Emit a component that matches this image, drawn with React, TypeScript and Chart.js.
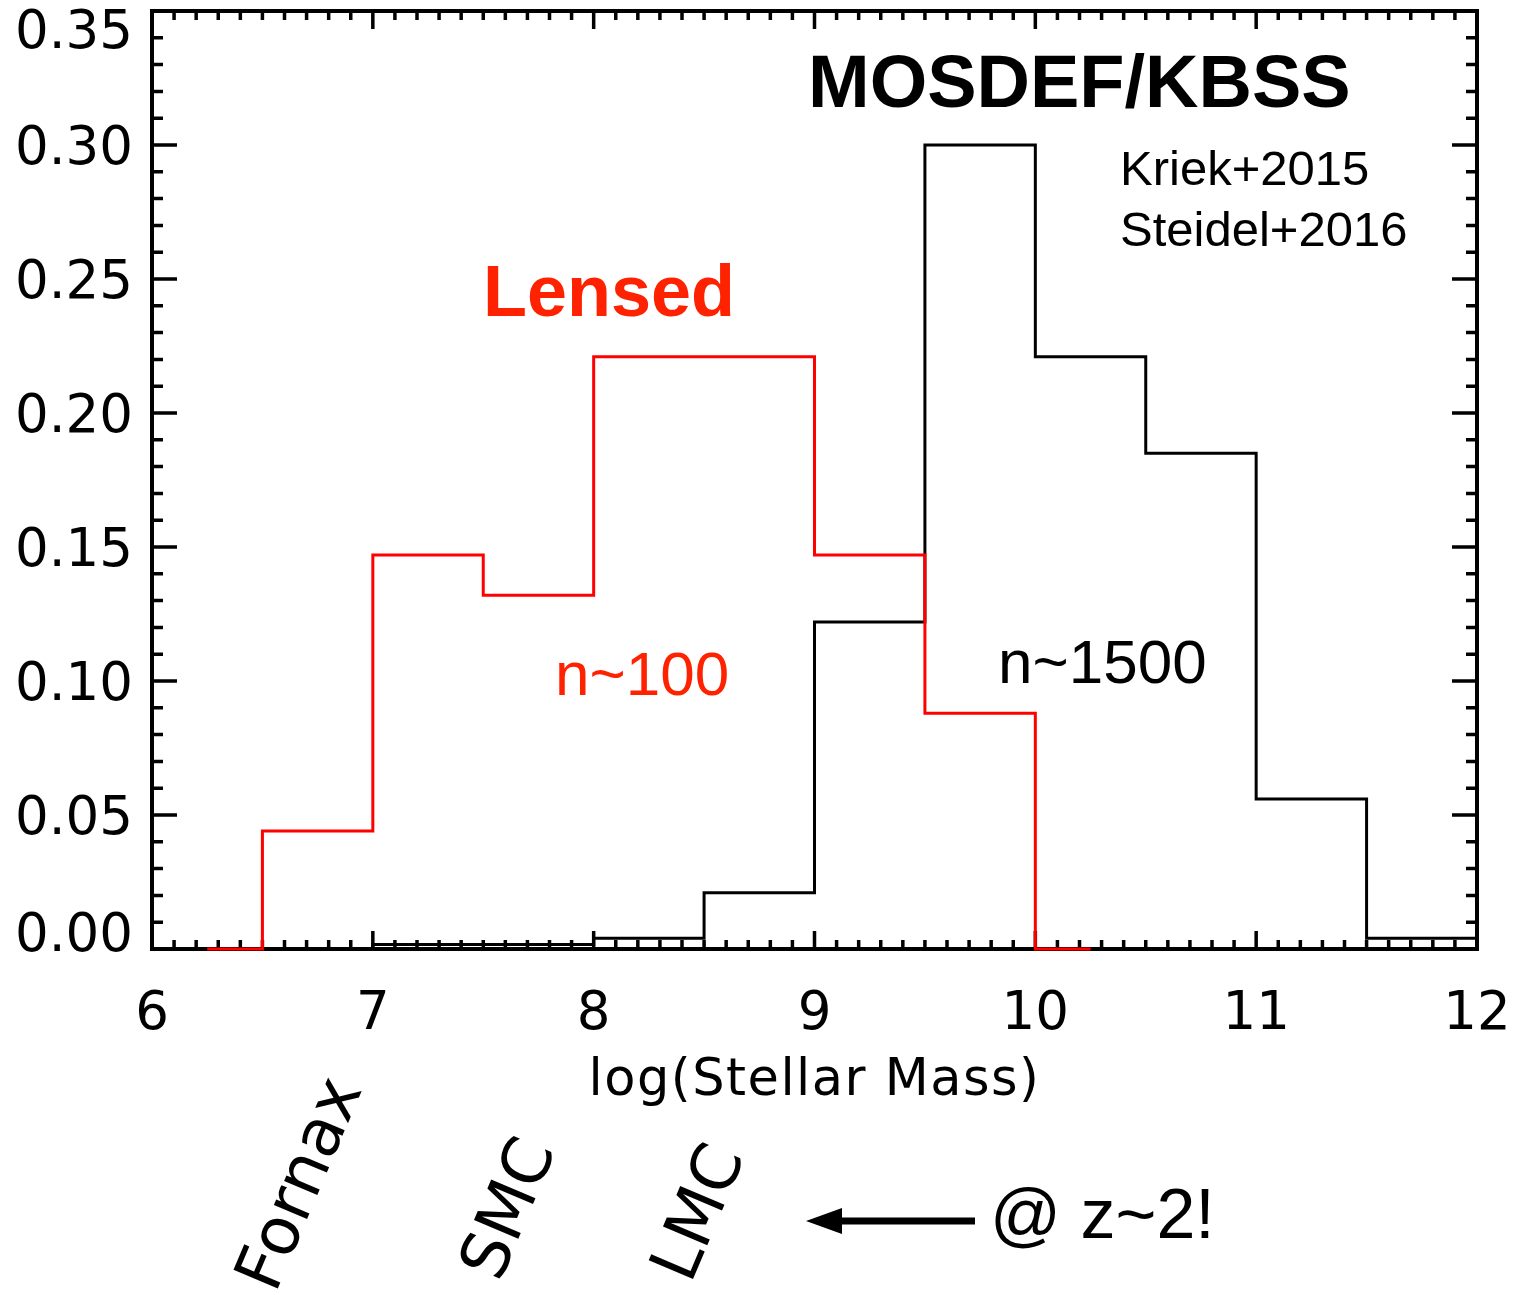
import { useEffect, useRef } from 'react';
import { Chart, registerables } from 'chart.js';

Chart.register(...registerables);

// Histogram bin centres (log stellar mass) and fraction per bin
const lensedBinCenters = [6.25, 6.75, 7.25, 7.75, 8.25, 8.75, 9.25, 9.75, 10.25];
const lensedFractions = [0, 0.044, 0.147, 0.132, 0.221, 0.221, 0.147, 0.088, 0];

const fieldBinCenters = [6.75, 7.25, 7.75, 8.25, 8.75, 9.25, 9.75, 10.25, 10.75, 11.25, 11.75, 12.25];
const fieldFractions = [0, 0.0017, 0.0017, 0.004, 0.021, 0.122, 0.3, 0.221, 0.185, 0.056, 0.004, 0.004];

// Axis ranges and tick labels
const xRange = [6, 12];
const yRange = [0, 0.35];
const xTickValues = [6, 7, 8, 9, 10, 11, 12];
const xTickLabels = ['6', '7', '8', '9', '10', '11', '12'];
const yTickValues = [0, 0.05, 0.1, 0.15, 0.2, 0.25, 0.3, 0.35];
const yTickLabels = ['0.00', '0.05', '0.10', '0.15', '0.20', '0.25', '0.30', '0.35'];
const galaxyLabels = ['Fornax', 'SMC', 'LMC'];

const LABEL_FONT = '"DejaVu Sans", sans-serif';
const TEXT_FONT = '"Liberation Sans", Arial, sans-serif';
const LENSED_RED = '#ff2200';

const boxAxesPlugin = {
  id: 'boxAxes',
  beforeDatasetsDraw(chart: any) {
    const { ctx, chartArea } = chart;
    const xs = chart.scales.x;
    const ys = chart.scales.y;
    const { left, right, top, bottom } = chartArea;
    ctx.save();
    ctx.strokeStyle = '#000';
    ctx.lineCap = 'butt';
    ctx.lineJoin = 'miter';
    // frame
    ctx.lineWidth = 4;
    ctx.strokeRect(left, top, right - left, bottom - top);
    // x ticks: minor every 0.1, major every 1 (bottom and top, inward)
    ctx.lineWidth = 3.5;
    ctx.beginPath();
    for (let i = 0; i <= 60; i++) {
      const v = xRange[0] + i / 10;
      const px = xs.getPixelForValue(v);
      const len = i % 10 === 0 ? 18 : 9;
      ctx.moveTo(px, bottom);
      ctx.lineTo(px, bottom - len);
      ctx.moveTo(px, top);
      ctx.lineTo(px, top + len);
    }
    // y ticks: minor every 0.01, major every 0.05 (left and right, inward)
    for (let i = 0; i <= 35; i++) {
      const v = i / 100;
      const py = ys.getPixelForValue(v);
      const len = i % 5 === 0 ? 25 : 11;
      ctx.moveTo(left, py);
      ctx.lineTo(left + len, py);
      ctx.moveTo(right, py);
      ctx.lineTo(right - len, py);
    }
    ctx.stroke();

    // tick labels
    ctx.fillStyle = '#000';
    ctx.font = `53px ${LABEL_FONT}`;
    const capH = 0.729 * 53;
    ctx.textAlign = 'right';
    ctx.textBaseline = 'alphabetic';
    yTickValues.forEach((v, i) => {
      let cy = ys.getPixelForValue(v);
      cy = Math.min(Math.max(cy, top + 18), bottom - 17);
      ctx.fillText(yTickLabels[i], left - 19, cy + capH / 2);
    });
    ctx.textAlign = 'center';
    xTickValues.forEach((v, i) => {
      ctx.fillText(xTickLabels[i], xs.getPixelForValue(v), 1029);
    });
    // axis title
    ctx.font = `51px ${LABEL_FONT}`;
    ctx.letterSpacing = '1.5px';
    ctx.fillText('log(Stellar Mass)', (left + right) / 2, 1095);
    ctx.letterSpacing = '0px';
    ctx.restore();
  },
  afterDraw(chart: any) {
    const { ctx } = chart;
    ctx.save();
    ctx.textBaseline = 'alphabetic';
    ctx.textAlign = 'left';

    ctx.fillStyle = '#000';
    ctx.font = `bold 74px ${TEXT_FONT}`;
    ctx.fillText('MOSDEF/KBSS', 808, 107);
    ctx.font = `49px ${TEXT_FONT}`;
    ctx.fillText('Kriek+2015', 1120, 185);
    ctx.fillText('Steidel+2016', 1120, 246);
    ctx.font = `62px ${TEXT_FONT}`;
    ctx.fillText('n~1500', 998, 683);

    ctx.fillStyle = LENSED_RED;
    ctx.font = `bold 72px ${TEXT_FONT}`;
    ctx.fillText('Lensed', 483, 316);
    ctx.font = `62px ${TEXT_FONT}`;
    ctx.fillText('n~100', 555, 695);

    // local-group comparison labels, tilted
    ctx.fillStyle = '#000';
    ctx.font = `66px ${LABEL_FONT}`;
    ctx.textAlign = 'center';
    ctx.textBaseline = 'middle';
    const spots = [
      [303, 1185],
      [512, 1210],
      [702, 1214],
    ];
    galaxyLabels.forEach((t, i) => {
      ctx.save();
      ctx.translate(spots[i][0], spots[i][1]);
      ctx.rotate((-67 * Math.PI) / 180);
      ctx.fillText(t, 0, 0);
      ctx.restore();
    });

    // arrow pointing left
    ctx.strokeStyle = '#000';
    ctx.lineWidth = 7;
    ctx.lineCap = 'butt';
    ctx.beginPath();
    ctx.moveTo(975, 1221);
    ctx.lineTo(835, 1221);
    ctx.stroke();
    ctx.beginPath();
    ctx.moveTo(806, 1221);
    ctx.lineTo(842, 1208);
    ctx.lineTo(842, 1234);
    ctx.closePath();
    ctx.fill();

    ctx.textAlign = 'left';
    ctx.textBaseline = 'alphabetic';
    ctx.font = `70px ${TEXT_FONT}`;
    ctx.fillText('@ z~2!', 990, 1238);
    ctx.restore();
  },
};

export default function App() {
  const canvasRef = useRef<HTMLCanvasElement>(null);

  useEffect(() => {
    const canvas = canvasRef.current;
    if (!canvas) return;
    const chart = new Chart(canvas, {
      type: 'line',
      data: {
        datasets: [
          {
            label: 'Lensed',
            data: lensedBinCenters.map((x, i) => ({ x, y: lensedFractions[i] })),
            borderColor: '#ff0000',
            borderWidth: 3,
            stepped: 'middle',
            pointRadius: 0,
            fill: false,
            borderJoinStyle: 'miter',
            borderCapStyle: 'butt',
            clip: { left: 5, right: 5, top: 5, bottom: 5 },
            order: 0,
          },
          {
            label: 'MOSDEF/KBSS',
            data: fieldBinCenters.map((x, i) => ({ x, y: fieldFractions[i] })),
            borderColor: '#000000',
            borderWidth: 3,
            stepped: 'middle',
            pointRadius: 0,
            fill: false,
            borderJoinStyle: 'miter',
            borderCapStyle: 'butt',
            clip: { left: 5, right: 0, top: 5, bottom: 5 },
            order: 1,
          },
        ],
      },
      options: {
        responsive: false,
        animation: false,
        devicePixelRatio: 1,
        layout: { padding: { left: 152, top: 11, right: 38, bottom: 346 } },
        scales: {
          x: { type: 'linear', min: xRange[0], max: xRange[1], display: false },
          y: { type: 'linear', min: yRange[0], max: yRange[1], display: false },
        },
        plugins: {
          legend: { display: false },
          tooltip: { enabled: false },
        },
      },
      plugins: [boxAxesPlugin],
    } as any);
    return () => chart.destroy();
  }, []);

  return (
    <div style={{ position: 'absolute', left: 0, top: 0, width: 1515, height: 1295, background: '#fff' }}>
      <canvas ref={canvasRef} width={1515} height={1295} />
    </div>
  );
}
